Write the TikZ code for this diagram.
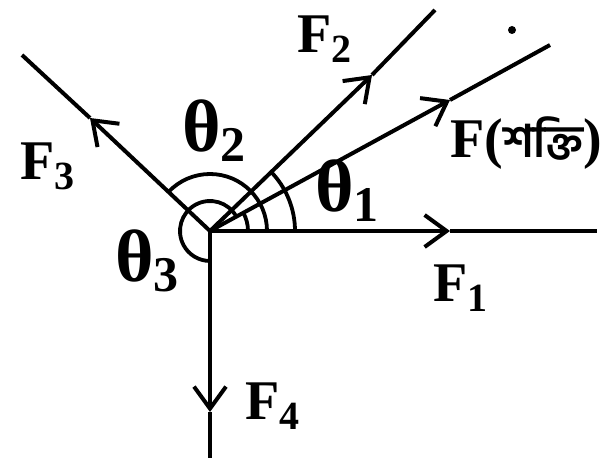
\documentclass[tikz,border=0pt]{standalone}
\usepackage{fontspec}
\setmainfont{Liberation Serif}
\newfontfamily\bnfont[Script=Bengali]{Hind Siliguri}
\usetikzlibrary{arrows.meta}
% label with a lowered index
\newcommand{\sublbl}[3]{#1\raisebox{-10pt}{\fontsize{#3}{#3}\selectfont #2}}

\begin{document}
\begin{tikzpicture}[x=1pt, y=1pt, >={Straight Barb[length=22pt,width=32pt]},
    force/.style={line width=4pt},
    anglearc/.style={line width=3.8pt},
    flabel/.style={anchor=base west, inner sep=0pt, font=\fontsize{56}{60}\selectfont\bfseries},
    thlabel/.style={anchor=base west, inner sep=0pt, font=\fontsize{74}{80}\selectfont\bfseries}]
    \useasboundingbox (0,0) rectangle (608,466);
    \coordinate (O) at (210,235);
    % ends and mid tips of the forces
    \coordinate (e1) at (597,235);  \coordinate (t1) at (450,235);
    \coordinate (e2) at (435,456);  \coordinate (t2) at (372,391);
    \coordinate (eF) at (550,421);  \coordinate (tF) at (450,366);
    \coordinate (e3) at (22,411);   \coordinate (t3) at (90,348);
    \coordinate (e4) at (210,8);    \coordinate (t4) at (210,54);
    \coordinate (dot) at (512,436);
    \foreach \f in {1,2,F,3,4} {
        \draw[force,->] (O) -- (t\f);
        \draw[force] (t\f) -- (e\f);
    }
    \fill (dot) circle (4);
    % angle arcs
    \draw[anglearc] ([shift={(0:85)}]O) arc[start angle=0, end angle=44.5, radius=85];
    \draw[anglearc] ([shift={(0:57)}]O) arc[start angle=0, end angle=137, radius=57];
    \draw[anglearc] ([shift={(0:38)}]O) arc[start angle=0, end angle=28.6, radius=38];
    \draw[anglearc] ([shift={(28.6:30)}]O) arc[start angle=28.6, end angle=270, radius=30];
    % labels
    \node[flabel] (lF1) at (433,164) {\sublbl{F}{1}{40}};
    \node[flabel] (lF2) at (297,413) {\sublbl{F}{2}{40}};
    \node[flabel] (lF3) at (20,286) {\sublbl{F}{3}{40}};
    \node[flabel] (lF4) at (245,46) {\sublbl{F}{4}{40}};
    \node[flabel] (lF) at (450,308) {F({\bnfont\fontsize{45}{50}\selectfont শক্তি})};
    \node[thlabel] (th1) at (315,254) {\sublbl{θ}{1}{50}};
    \node[thlabel] (th2) at (182,314) {\sublbl{θ}{2}{50}};
    \node[thlabel] (th3) at (115,184) {\sublbl{θ}{3}{50}};
\end{tikzpicture}
\end{document}
